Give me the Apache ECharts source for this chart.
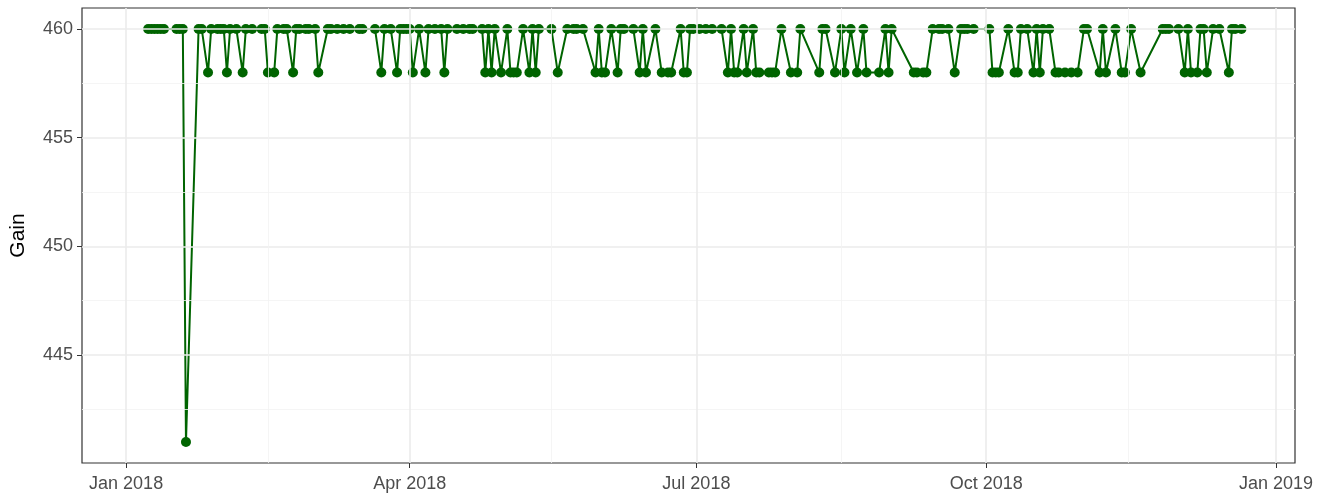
<!DOCTYPE html>
<html>
<head>
<meta charset="utf-8">
<script src="https://cdn.jsdelivr.net/npm/echarts@6/dist/echarts.min.js"></script>
<style>
  body { margin: 0; background: #fff; }
  #chart { width: 1324px; height: 499px; }
</style>
</head>
<body>
<div id="chart"></div>
<script>
// day of 2018 (0 = 1 Jan 2018) for each reading
var days = [7, 8, 9, 10, 11, 12, 16, 17, 18, 19, 23, 24, 26, 27, 29, 30, 31, 32, 33, 35,
  37, 38, 40, 43, 44, 45, 47, 48, 50, 51, 53, 54, 55, 57, 58, 60, 61, 64, 65, 67,
  69, 71, 74, 75, 79, 81, 82, 84, 86, 87, 88, 89, 90, 91, 93, 95, 96, 98, 100, 101,
  102, 105, 107, 109, 110, 113, 114, 115, 116, 117, 119, 121, 122, 123, 124, 126, 128, 129, 130, 131,
  135, 137, 140, 142, 143, 145, 149, 150, 151, 152, 154, 156, 157, 158, 161, 163, 164, 165, 168, 170,
  172, 173, 176, 177, 178, 179, 180, 182, 184, 186, 189, 191, 192, 193, 194, 196, 197, 199, 200, 201,
  204, 205, 206, 208, 211, 213, 214, 220, 221, 222, 225, 227, 228, 230, 232, 234, 235, 239, 241, 242,
  243, 250, 251, 253, 254, 256, 258, 259, 261, 263, 265, 266, 267, 269, 274, 275, 276, 277, 280, 282,
  283, 284, 286, 288, 289, 290, 291, 293, 295, 296, 298, 300, 302, 304, 305, 309, 310, 311, 314, 316,
  317, 319, 322, 329, 330, 331, 334, 336, 337, 338, 340, 341, 342, 343, 345, 347, 350, 351, 352, 354];
var gain = [460, 460, 460, 460, 460, 460, 460, 460, 460, 441, 460, 460, 458, 460, 460, 460, 460, 458, 460, 460,
  458, 460, 460, 460, 460, 458, 458, 460, 460, 460, 458, 460, 460, 460, 460, 460, 458, 460, 460, 460,
  460, 460, 460, 460, 460, 458, 460, 460, 458, 460, 460, 460, 460, 458, 460, 458, 460, 460, 460, 458,
  460, 460, 460, 460, 460, 460, 458, 460, 458, 460, 458, 460, 458, 458, 458, 460, 458, 460, 458, 460,
  460, 458, 460, 460, 460, 460, 458, 460, 458, 458, 460, 458, 460, 460, 460, 458, 460, 458, 460, 458,
  458, 458, 460, 458, 458, 460, 460, 460, 460, 460, 460, 458, 460, 458, 458, 460, 458, 460, 458, 458,
  458, 458, 458, 460, 458, 458, 460, 458, 460, 460, 458, 460, 458, 460, 458, 460, 458, 458, 460, 458,
  460, 458, 458, 458, 458, 460, 460, 460, 460, 458, 460, 460, 460, 460, 460, 458, 458, 458, 460, 458,
  458, 460, 460, 458, 460, 458, 460, 460, 458, 458, 458, 458, 458, 460, 460, 458, 460, 458, 460, 458,
  458, 460, 458, 460, 460, 460, 460, 458, 460, 458, 458, 460, 460, 458, 460, 460, 458, 460, 460, 460];

var yTicks = [445, 450, 455, 460];
var yMinor = [442.5, 447.5, 452.5, 457.5];
var xTicks = ['2018-01-01', '2018-04-01', '2018-07-01', '2018-10-01', '2019-01-01'];
var xMinor = ['2018-02-15', '2018-05-16', '2018-08-16', '2018-11-15'];
var monthNames = ['Jan', 'Feb', 'Mar', 'Apr', 'May', 'Jun', 'Jul', 'Aug', 'Sep', 'Oct', 'Nov', 'Dec'];

var DAY = 86400000;
var start = Date.UTC(2018, 0, 1);
var toTs = function (s) { return new Date(s + 'T00:00:00Z').getTime(); };

var points = days.map(function (d, i) { return [start + d * DAY, gain[i]]; });
var xTickTs = xTicks.map(toTs);

var gridLines = [];
yTicks.forEach(function (v) { gridLines.push({ yAxis: v, lineStyle: { color: '#EBEBEB', width: 1.6 } }); });
yMinor.forEach(function (v) { gridLines.push({ yAxis: v, lineStyle: { color: '#F2F2F2', width: 0.8 } }); });
xTickTs.forEach(function (v) { gridLines.push({ xAxis: v, lineStyle: { color: '#EBEBEB', width: 1.6 } }); });
xMinor.map(toTs).forEach(function (v) { gridLines.push({ xAxis: v, lineStyle: { color: '#F2F2F2', width: 0.8 } }); });

var font = 'Liberation Sans, Arial, sans-serif';
var myChart = echarts.init(document.getElementById('chart'));
myChart.setOption({
  animation: false,
  backgroundColor: '#fff',
  grid: {
    left: 81, right: 29, top: 8, bottom: 36,
    show: true, borderColor: '#333333', borderWidth: 1.2, backgroundColor: 'transparent', z: 5
  },
  xAxis: {
    type: 'value',
    min: Date.UTC(2017, 11, 18),
    max: Date.UTC(2019, 0, 7),
    axisLine: { show: false },
    splitLine: { show: false },
    axisTick: { show: true, length: 5, lineStyle: { color: '#333333' }, customValues: xTickTs },
    axisLabel: {
      customValues: xTickTs,
      color: '#4D4D4D', fontSize: 18, fontFamily: font, margin: 12,
      formatter: function (v) {
        var d = new Date(v);
        return monthNames[d.getUTCMonth()] + ' ' + d.getUTCFullYear();
      }
    }
  },
  yAxis: {
    type: 'value',
    min: 440.03,
    max: 460.97,
    name: 'Gain',
    nameLocation: 'middle',
    nameGap: 53,
    nameTextStyle: { color: '#000', fontSize: 21, fontFamily: font },
    axisLine: { show: false },
    splitLine: { show: false },
    axisTick: { show: true, length: 5, lineStyle: { color: '#333333' }, customValues: yTicks },
    axisLabel: {
      customValues: yTicks,
      color: '#4D4D4D', fontSize: 18, fontFamily: font, margin: 9
    }
  },
  series: [
    {
      type: 'line',
      data: [],
      silent: true,
      z: 1,
      markLine: {
        silent: true,
        symbol: 'none',
        label: { show: false },
        lineStyle: { type: 'solid' },
        data: gridLines
      }
    },
    {
      name: 'Gain',
      type: 'line',
      data: points,
      z: 3,
      showAllSymbol: true,
      symbol: 'circle',
      symbolSize: 10,
      itemStyle: { color: '#006400' },
      lineStyle: { color: '#006400', width: 2 }
    }
  ]
});
</script>
</body>
</html>
